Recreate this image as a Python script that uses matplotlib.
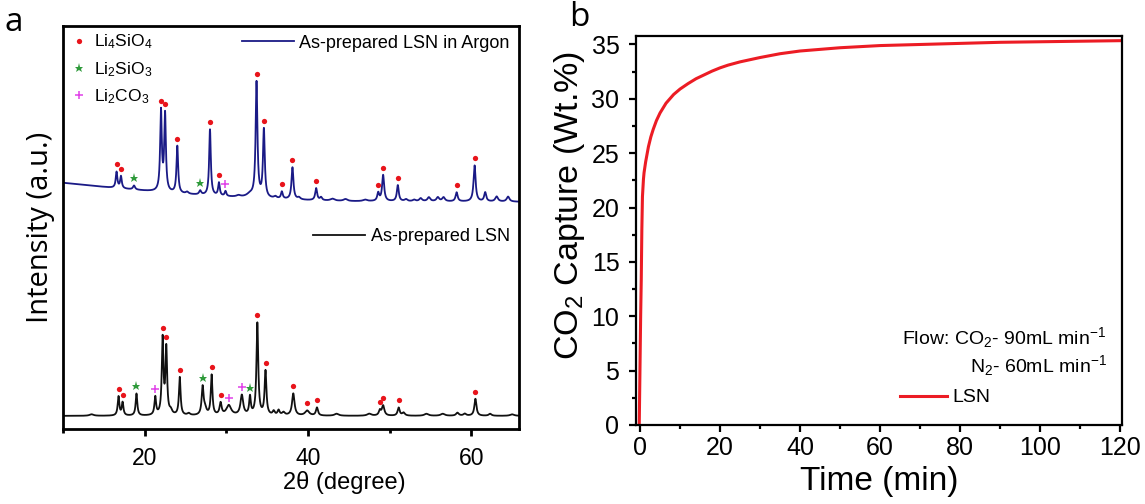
import matplotlib.pyplot as plt
import numpy as np
from matplotlib.lines import Line2D
from matplotlib.ticker import MultipleLocator

plt.rcParams['font.family'] = ['Liberation Sans', 'DejaVu Sans']
plt.rcParams['mathtext.fontset'] = 'custom'
plt.rcParams['mathtext.rm'] = 'Liberation Sans'
plt.rcParams['mathtext.it'] = 'Liberation Sans:italic'
plt.rcParams['mathtext.bf'] = 'Liberation Sans:bold'


# ----------------------------------------------- #
# XRD peaks: position (2theta), height (a.u.), half width

argon_pos = [16.56, 17.1, 18.7, 22.0, 22.5, 24.0, 25.2, 26.8, 28.0, 29.1, 29.9, 31.5,
             32.9, 33.7, 34.6, 36.0, 36.8, 38.1, 38.9, 41.0, 41.6, 43.0, 44.6, 47.0,
             48.6, 49.2, 51.0, 52.0, 53.0, 53.8, 54.8, 55.9, 56.6, 58.2, 60.4, 61.7,
             63.1, 64.5]
argon_height = [16, 12, 4, 80, 77, 47, 2, 4, 66, 13, 5, 1.5,
                3, 115, 68, 2, 7, 32, 2, 12, 3, 2, 2, 1.5,
                8, 26, 16, 2, 1.5, 3, 4, 4, 4, 9, 36, 9,
                5, 5]
argon_hw = [0.12, 0.12, 0.15, 0.12, 0.12, 0.12, 0.2, 0.15, 0.12, 0.12, 0.12, 0.3,
            0.5, 0.13, 0.13, 0.2, 0.13, 0.14, 0.2, 0.14, 0.15, 0.3, 0.3, 0.3,
            0.14, 0.15, 0.14, 0.2, 0.2, 0.2, 0.2, 0.2, 0.2, 0.15, 0.15, 0.15,
            0.2, 0.2]
argon_bg_2t = [10, 16, 20, 25, 30, 35, 40, 45, 66]
argon_bg = [246, 241, 238, 234.5, 232, 230, 228.5, 227.5, 227]

lsn_pos = [13.5, 16.8, 17.3, 19.0, 21.3, 22.2, 22.65, 23.2, 24.3, 25.4, 27.1, 27.4,
           28.2, 29.3, 30.3, 31.9, 32.9, 33.8, 34.8, 35.8, 36.4, 37.0, 38.2, 39.9,
           41.1, 43.5, 47.5, 48.8, 49.2, 51.1, 51.7, 54.5, 56.5, 58.3, 59.2, 60.5,
           62.3, 65.0]
lsn_height = [1.5, 19, 13, 22, 18, 76, 66, 4, 38, 2, 28, 6,
              40, 12, 10, 20, 18, 92, 44, 4, 5, 3, 22, 5,
              8, 2, 2, 5, 10, 8, 3, 2, 2, 3, 2, 17,
              2, 1.5]
lsn_hw = [0.3, 0.12, 0.12, 0.12, 0.12, 0.12, 0.12, 0.2, 0.12, 0.2, 0.14, 0.2,
          0.12, 0.15, 0.35, 0.2, 0.12, 0.13, 0.13, 0.15, 0.15, 0.2, 0.18, 0.3,
          0.15, 0.3, 0.3, 0.15, 0.18, 0.15, 0.2, 0.3, 0.3, 0.2, 0.2, 0.15,
          0.2, 0.3]
lsn_bg_2t = [10, 66]
lsn_bg = [13, 13]

# phase assignments
argon_Li4SiO4 = [16.56, 17.1, 22.0, 22.5, 24.0, 28.0, 29.1, 33.7, 34.6, 36.8, 38.1,
                 41.0, 48.6, 49.2, 51.0, 58.2, 60.4]
argon_Li2SiO3 = [18.7, 26.8]
argon_Li2CO3 = [29.9]
lsn_Li4SiO4 = [16.8, 17.3, 22.2, 22.65, 24.3, 28.2, 29.3, 33.8, 34.8, 38.2, 39.9,
               41.1, 48.8, 49.2, 51.1, 60.5]
lsn_Li2SiO3 = [19.0, 27.1, 32.9]
lsn_Li2CO3 = [21.3, 30.3, 31.9]

# CO2 uptake
time_min = [-0.2, 0.0, 0.15, 0.3, 0.45, 0.6, 0.85, 1.0, 1.4, 2.1, 2.7, 3.3, 4.1, 5.0,
            6.5, 8.4, 10.0, 12.0, 14.0, 16.0, 18.0, 20.0, 22.0, 25.0, 30.0, 35.0,
            40.0, 50.0, 60.0, 70.0, 80.0, 90.0, 100.0, 110.0, 120.0]
co2_wt = [0.0, 5.7, 10.0, 13.3, 18.0, 21.0, 22.6, 23.2, 24.2, 25.6, 26.5, 27.2, 28.0,
          28.7, 29.6, 30.4, 30.9, 31.4, 31.85, 32.2, 32.55, 32.85, 33.1, 33.4, 33.8,
          34.15, 34.4, 34.7, 34.9, 35.0, 35.1, 35.2, 35.25, 35.3, 35.35]


def pattern(tt, pos, height, hw, bg_2t, bg):
    y = np.interp(tt, bg_2t, bg)
    for c, h, w in zip(pos, height, hw):
        y = y + h / (1. + ((tt - c) / w)**2)
    return y


def mark(ax, tt, y, peaks, **kw):
    yy = [y[np.argmin(np.abs(tt - p))] + 7 for p in peaks]
    ax.plot(peaks, yy, linestyle='none', **kw)


red_kw = dict(marker='o', color='#e8141b', markersize=3.8, markeredgewidth=0)
green_kw = dict(marker='*', color='#2e9a3a', markersize=6.5, markeredgewidth=0)
pink_kw = dict(marker='+', color='#e040e8', markersize=5.5, markeredgewidth=1.1)

fig = plt.figure(figsize=(11.45, 5.04), dpi=100)

# Part a #
ax = fig.add_axes([0.055, 0.149, 0.398, 0.800])
tt = np.linspace(10, 66, 5601)
ya = pattern(tt, argon_pos, argon_height, argon_hw, argon_bg_2t, argon_bg)
yl = pattern(tt, lsn_pos, lsn_height, lsn_hw, lsn_bg_2t, lsn_bg)
la, = ax.plot(tt, ya, color='#1a1a86', lw=1.3)
ll, = ax.plot(tt, yl, color='#111111', lw=1.3)

mark(ax, tt, ya, argon_Li4SiO4, **red_kw)
mark(ax, tt, ya, argon_Li2SiO3, **green_kw)
mark(ax, tt, ya, argon_Li2CO3, **pink_kw)
mark(ax, tt, yl, lsn_Li4SiO4, **red_kw)
mark(ax, tt, yl, lsn_Li2SiO3, **green_kw)
mark(ax, tt, yl, lsn_Li2CO3, **pink_kw)

ax.set_xlim(10, 65.8)
ax.set_ylim(0, 403)
ax.set_yticks([])
ax.xaxis.set_major_locator(MultipleLocator(20))
ax.xaxis.set_minor_locator(MultipleLocator(10))
ax.tick_params(axis='x', which='major', direction='out', length=5, width=2, labelsize=16.5, pad=8)
ax.tick_params(axis='x', which='minor', direction='out', length=3, width=2)
for s in ax.spines.values():
    s.set_linewidth(2.0)
ax.set_xlabel('2θ (degree)', fontsize=17)
ax.xaxis.set_label_coords(0.618, -0.105)
ax.set_ylabel('Intensity (a.u.)', fontsize=21, family=['Open Sans', 'DejaVu Sans'], labelpad=6)

h_phase = [Line2D([], [], linestyle='none', **red_kw),
           Line2D([], [], linestyle='none', **green_kw),
           Line2D([], [], linestyle='none', **pink_kw)]
leg1 = ax.legend(h_phase, [r'Li$_4$SiO$_4$', r'Li$_2$SiO$_3$', r'Li$_2$CO$_3$'],
                 loc='upper left', frameon=False, fontsize=12.5, labelspacing=0.5,
                 handlelength=1.0, handletextpad=0.4, borderaxespad=0.0,
                 bbox_to_anchor=(0.0, 1.0))
ax.add_artist(leg1)
leg2 = ax.legend([la], ['As-prepared LSN in Argon'], loc='upper right', frameon=False,
                 fontsize=13, handlelength=2.9, handletextpad=0.3,
                 borderaxespad=0.1, bbox_to_anchor=(1.0, 1.0))
ax.add_artist(leg2)
ax.legend([ll], ['As-prepared LSN'], loc='center right', frameon=False, fontsize=13,
          handlelength=2.9, handletextpad=0.3, borderaxespad=0.1,
          bbox_to_anchor=(1.0, 0.476))

fig.text(0.004, 0.955, 'a', fontsize=24, family=['Open Sans', 'DejaVu Sans'], va='center')

# Part b #
bx = fig.add_axes([0.5555, 0.157, 0.4245, 0.772])
lb, = bx.plot(time_min, co2_wt, color='#ec1c24', lw=2.2)
bx.set_xlim(-1, 120.5)
bx.set_ylim(0, 35.8)
bx.xaxis.set_major_locator(MultipleLocator(20))
bx.xaxis.set_minor_locator(MultipleLocator(10))
bx.yaxis.set_major_locator(MultipleLocator(5))
bx.yaxis.set_minor_locator(MultipleLocator(2.5))
bx.tick_params(which='major', direction='out', length=5, width=1.6, labelsize=18)
bx.tick_params(axis='x', which='major', pad=3)
bx.tick_params(axis='y', which='major', pad=7)
bx.tick_params(which='minor', direction='out', length=3, width=1.6)
for s in bx.spines.values():
    s.set_linewidth(1.6)
bx.set_xlabel('Time (min)', fontsize=24, labelpad=4)
bx.set_ylabel(r'CO$_2$ Capture (Wt.%)', fontsize=24.5)
bx.yaxis.set_label_coords(-0.1, 0.565)

bx.text(0.968, 0.224, r'Flow: CO$_2$- 90mL min$^{-1}$', transform=bx.transAxes,
        ha='right', va='center', fontsize=14)
bx.text(0.968, 0.152, r'N$_2$- 60mL min$^{-1}$', transform=bx.transAxes,
        ha='right', va='center', fontsize=14)
bx.legend([lb], ['LSN'], loc='center left', frameon=False, fontsize=14,
          handlelength=2.4, handletextpad=0.25, bbox_to_anchor=(0.508, 0.07))

fig.text(0.497, 0.965, 'b', fontsize=24, family=['Open Sans', 'DejaVu Sans'], va='center')

plt.savefig('out.png', dpi=100)
